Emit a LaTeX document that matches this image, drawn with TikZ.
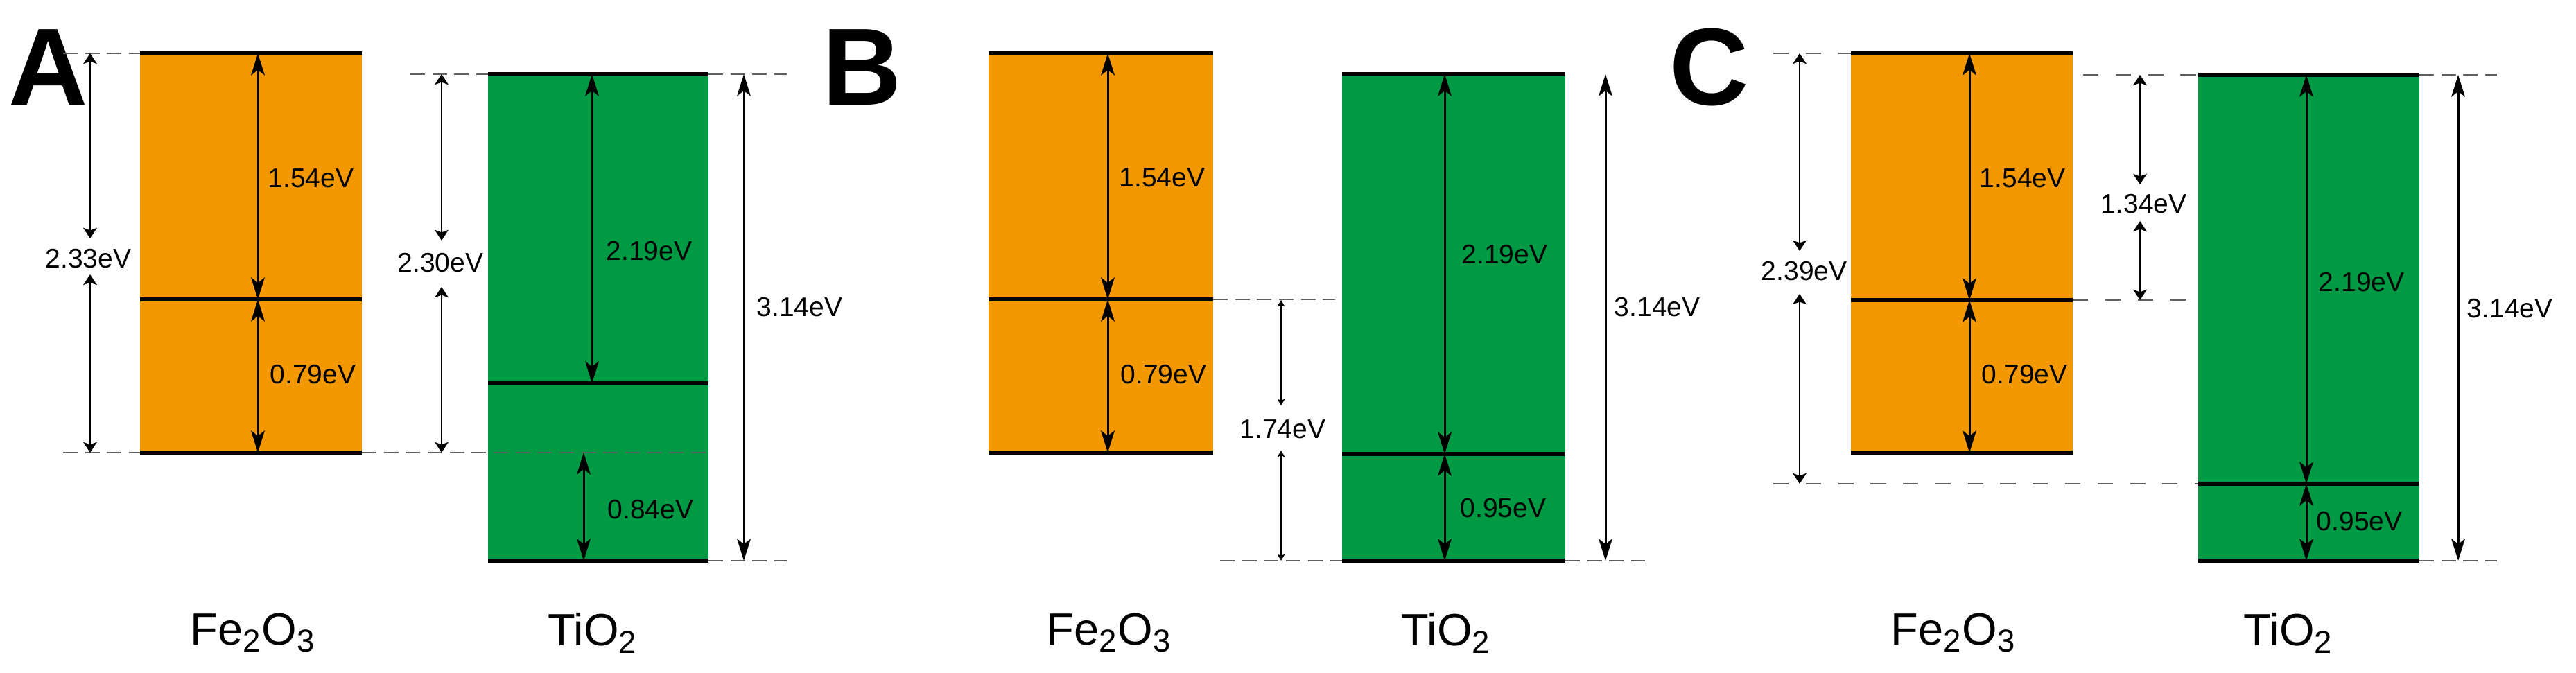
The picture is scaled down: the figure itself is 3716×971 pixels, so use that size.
\documentclass[tikz,border=0pt]{standalone}
\usepackage{fontspec}
\setmainfont{Liberation Sans}
\usetikzlibrary{arrows.meta}
\definecolor{feorange}{RGB}{243,152,0}
\definecolor{tigreen}{RGB}{0,153,68}
\definecolor{guidegray}{RGB}{95,95,95}
\newcommand\dimarrow[5]{%
  \coordinate (#1s) at (#3,#4); \coordinate (#1e) at (#3,#5);
  \draw[#2] (#1s) -- (#1e);}
\newcommand\guideline[5][guide]{%
  \coordinate (#2s) at (#3,#5); \coordinate (#2e) at (#4,#5);
  \draw[#1] (#2s) -- (#2e);}
\tikzset{
  lvl/.style={line width=1.65pt, black},
  febox/.style={fill=feorange},
  tibox/.style={fill=tigreen},
  bigarr/.style={line width=0.85pt,
    {Stealth[length=9pt,width=5.6pt,inset=2.2pt]}-{Stealth[length=9pt,width=5.6pt,inset=2.2pt]}},
  smallarr/.style={line width=0.75pt,
    {Stealth[length=4.3pt,width=5.6pt,inset=1pt]}-{Stealth[length=4.3pt,width=5.6pt,inset=1pt]}},
  tinyarr/.style={line width=0.5pt,
    {Stealth[length=2.6pt,width=3pt,inset=0.5pt]}-{Stealth[length=2.6pt,width=3pt,inset=0.5pt]}},
  guide/.style={guidegray, line width=0.6pt, dash pattern=on 6pt off 3pt},
  guidewide/.style={guidegray, line width=0.6pt, dash pattern=on 6.3pt off 7pt},
  val/.style={font=\fontsize{11.1}{13}\selectfont, anchor=west, inner sep=0pt},
  mat/.style={font=\fontsize{18.5}{22}\selectfont, inner sep=0pt},
  panel/.style={font=\fontsize{45}{50}\selectfont\bfseries, anchor=base west, inner sep=0pt},
}
\begin{document}
\begin{tikzpicture}[x=0.01cm, y=-0.01cm]
\useasboundingbox (0,0) rectangle (3716,971);
% ================= Panel A =================
\node[panel] (labA) at (12,152) {A};
\fill[febox] (202,75) rectangle (522,655);
\fill[tibox] (704,105) rectangle (1022,811);
\draw[lvl] (202,77) -- (522,77);
\draw[lvl] (202,432) -- (522,432);
\draw[lvl] (202,653) -- (522,653);
\draw[lvl] (704,107) -- (1022,107);
\draw[lvl] (704,553) -- (1022,553);
\draw[lvl] (704,809) -- (1022,809);
\guideline{gA1}{91}{202}{77}
\guideline{gA2}{91}{202}{653}
\guideline{gA3}{522}{1024}{653}
\guideline{gA4}{592}{704}{107}
\guideline{gA5}{1022}{1135}{107}
\guideline{gA6}{1022}{1135}{809}
\dimarrow{aA1}{bigarr}{372}{77}{432}
\dimarrow{aA2}{bigarr}{372}{432}{653}
\dimarrow{aA3}{smallarr}{130}{77}{344}
\dimarrow{aA4}{smallarr}{130}{396}{653}
\dimarrow{aA5}{smallarr}{637}{107}{347}
\dimarrow{aA6}{smallarr}{637}{414}{653}
\dimarrow{aA7}{bigarr}{854}{107}{553}
\dimarrow{aA8}{bigarr}{842}{653}{809}
\dimarrow{aA9}{bigarr}{1073}{107}{809}
\node[val] (vA1) at (386,257) {1.54eV};
\node[val] (vA2) at (389,540) {0.79eV};
\node[val] (vA3) at (65,373) {2.33eV};
\node[val] (vA4) at (573,379) {2.30eV};
\node[val] (vA5) at (874,362) {2.19eV};
\node[val] (vA6) at (876,735) {0.84eV};
\node[val] (vA7) at (1091,443) {3.14eV};
\node[mat] (feA) at (365,913) {Fe\textsubscript{2}O\textsubscript{3}};
\node[mat] (tiA) at (855,913) {TiO\textsubscript{2}};
% ================= Panel B =================
\node[panel] (labB) at (1186,152) {B};
\fill[febox] (1426,75) rectangle (1750,655);
\fill[tibox] (1936,105) rectangle (2258,811);
\draw[lvl] (1426,77) -- (1750,77);
\draw[lvl] (1426,432) -- (1750,432);
\draw[lvl] (1426,653) -- (1750,653);
\draw[lvl] (1936,107) -- (2258,107);
\draw[lvl] (1936,655) -- (2258,655);
\draw[lvl] (1936,809) -- (2258,809);
\guideline{gB1}{1750}{1926}{432}
\guideline{gB2}{1760}{1936}{809}
\guideline{gB3}{2258}{2373}{809}
\dimarrow{aB1}{bigarr}{1598}{77}{432}
\dimarrow{aB2}{bigarr}{1598}{432}{653}
\dimarrow{aB3}{tinyarr}{1848}{433}{585}
\dimarrow{aB4}{tinyarr}{1848}{650}{809}
\dimarrow{aB5}{bigarr}{2084}{107}{655}
\dimarrow{aB6}{bigarr}{2084}{655}{809}
\dimarrow{aB7}{bigarr}{2316}{107}{809}
\node[val] (vB1) at (1614,256) {1.54eV};
\node[val] (vB2) at (1616,540) {0.79eV};
\node[val] (vB3) at (1788,619) {1.74eV};
\node[val] (vB4) at (2108,367) {2.19eV};
\node[val] (vB5) at (2106,733) {0.95eV};
\node[val] (vB6) at (2328,443) {3.14eV};
\node[mat] (feB) at (1600,913) {Fe\textsubscript{2}O\textsubscript{3}};
\node[mat] (tiB) at (2086,913) {TiO\textsubscript{2}};
% ================= Panel C =================
\node[panel] (labC) at (2408,152) {C};
\fill[febox] (2670,75) rectangle (2990,655);
\fill[tibox] (3171,106) rectangle (3490,811);
\draw[lvl] (2670,77) -- (2990,77);
\draw[lvl] (2670,433) -- (2990,433);
\draw[lvl] (2670,653) -- (2990,653);
\draw[lvl] (3171,108) -- (3490,108);
\draw[lvl] (3171,698) -- (3490,698);
\draw[lvl] (3171,809) -- (3490,809);
\guideline[guidewide]{gC1}{2558}{2670}{77}
\guideline[guidewide]{gC2}{2558}{3171}{698}
\guideline[guidewide]{gC3}{3005}{3171}{108}
\guideline{gC4}{3490}{3602}{108}
\guideline[guidewide]{gC5}{2990}{3163}{433}
\guideline{gC6}{3490}{3602}{809}
\dimarrow{aC1}{bigarr}{2841}{77}{433}
\dimarrow{aC2}{bigarr}{2841}{433}{653}
\dimarrow{aC3}{smallarr}{2596}{77}{362}
\dimarrow{aC4}{smallarr}{2596}{424}{698}
\dimarrow{aC5}{smallarr}{3087}{108}{266}
\dimarrow{aC6}{smallarr}{3087}{319}{433}
\dimarrow{aC7}{bigarr}{3327}{108}{698}
\dimarrow{aC8}{bigarr}{3327}{698}{809}
\dimarrow{aC9}{bigarr}{3546}{108}{809}
\node[val] (vC1) at (2855,257) {1.54eV};
\node[val] (vC2) at (2858,540) {0.79eV};
\node[val] (vC3) at (2540,391) {2.39eV};
\node[val] (vC4) at (3030,294) {1.34eV};
\node[val] (vC5) at (3344,407) {2.19eV};
\node[val] (vC6) at (3341,752) {0.95eV};
\node[val] (vC7) at (3558,445) {3.14eV};
\node[mat] (feC) at (2818,913) {Fe\textsubscript{2}O\textsubscript{3}};
\node[mat] (tiC) at (3301,913) {TiO\textsubscript{2}};
\end{tikzpicture}
\end{document}
